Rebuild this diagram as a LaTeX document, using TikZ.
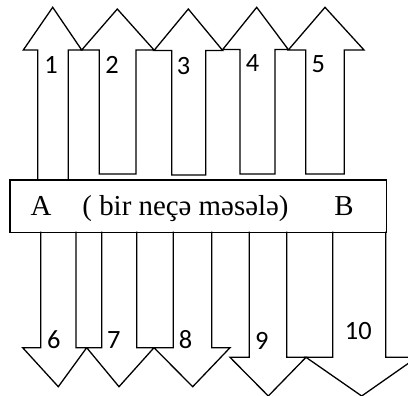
\documentclass[tikz,border=0pt]{standalone}
\usepackage{fontspec}
\setmainfont{Liberation Serif}
\newfontfamily\numfont{Carlito}
\begin{document}
\begin{tikzpicture}[x=1bp,y=-1bp, line width=1.3bp, line join=miter,
  numlbl/.style={font=\numfont\fontsize{26.5}{26.5}\selectfont, inner sep=0pt, anchor=base},
  barlbl/.style={font=\fontsize{29}{29}\selectfont, inner sep=0pt, anchor=base},
  arrowshape/.style={draw=black}]
\useasboundingbox (0,0) rectangle (408,396);
\clip (0,0) rectangle (408,396);
% upward arrows
\draw[arrowshape] (37.7,179.3) -- (37.7,50) -- (23.3,50) -- (52.7,7.3) -- (81.7,50) -- (68.3,50) -- (68.3,179.3);
\draw[arrowshape] (99.3,174) -- (99.3,50) -- (81.7,50) -- (117.3,9) -- (154,50) -- (136,50) -- (136,174) -- cycle;
\draw[arrowshape] (171.7,175) -- (171.7,50.5) -- (154,50.5) -- (188.3,9) -- (222.7,50.5) -- (205.7,50.5) -- (205.7,175) -- cycle;
\draw[arrowshape] (240,174) -- (240,49.5) -- (222.7,49.5) -- (256.7,7.3) -- (288.3,49.5) -- (275,49.5) -- (275,174) -- cycle;
\draw[arrowshape] (305.7,174) -- (305.7,50) -- (288.3,50) -- (325,7.3) -- (364,50) -- (344.3,50) -- (344.3,174) -- cycle;
% bar
\node[draw, line width=1.3bp, minimum width=376.4bp, minimum height=52.4bp, inner sep=0pt, anchor=north west] (bar) at (9.3,179.3) {};
\node[barlbl] (A) at (41,215) {A};
\node[barlbl] (mid) at (185.5,215) {( bir neçə məsələ)};
\node[barlbl] (B) at (344,215) {B};
% downward arrows
\draw[arrowshape] (40.7,231.7) -- (40.7,347.7) -- (22.7,347.7) -- (58.3,386.7) -- (86.7,347.7) -- (76,347.7) -- (76,231.7);
\draw[arrowshape] (101.7,231.7) -- (101.7,347.7) -- (86.7,347.7) -- (119,386.7) -- (154,347.7) -- (136.7,347.7) -- (136.7,231.7);
\draw[arrowshape] (173.3,231.7) -- (173.3,347.7) -- (154,347.7) -- (192.7,386.7) -- (230,347.7) -- (211.7,347.7) -- (211.7,231.7);
\draw[arrowshape] (249.3,231.7) -- (249.3,357.3) -- (230,357.3) -- (268.3,396) -- (306,357.3) -- (286.7,357.3) -- (286.7,231.7);
\draw[arrowshape] (332.7,231.7) -- (332.7,357.3) -- (306,357.3) -- (361.7,396) -- (417,357.3) -- (385.7,357.3) -- (385.7,231.7);
% labels
\node[numlbl] (n1) at (51,73.3) {1};
\node[numlbl] (n2) at (112,73.3) {2};
\node[numlbl] (n3) at (183.5,74) {3};
\node[numlbl] (n4) at (252.5,71.7) {4};
\node[numlbl] (n5) at (318.3,72.7) {5};
\node[numlbl] (n6) at (53.7,348.3) {6};
\node[numlbl] (n7) at (113.7,348.3) {7};
\node[numlbl] (n8) at (185.5,348.3) {8};
\node[numlbl] (n9) at (261.7,349.3) {9};
\node[numlbl] (n10) at (358.3,339.3) {10};
\end{tikzpicture}
\end{document}
